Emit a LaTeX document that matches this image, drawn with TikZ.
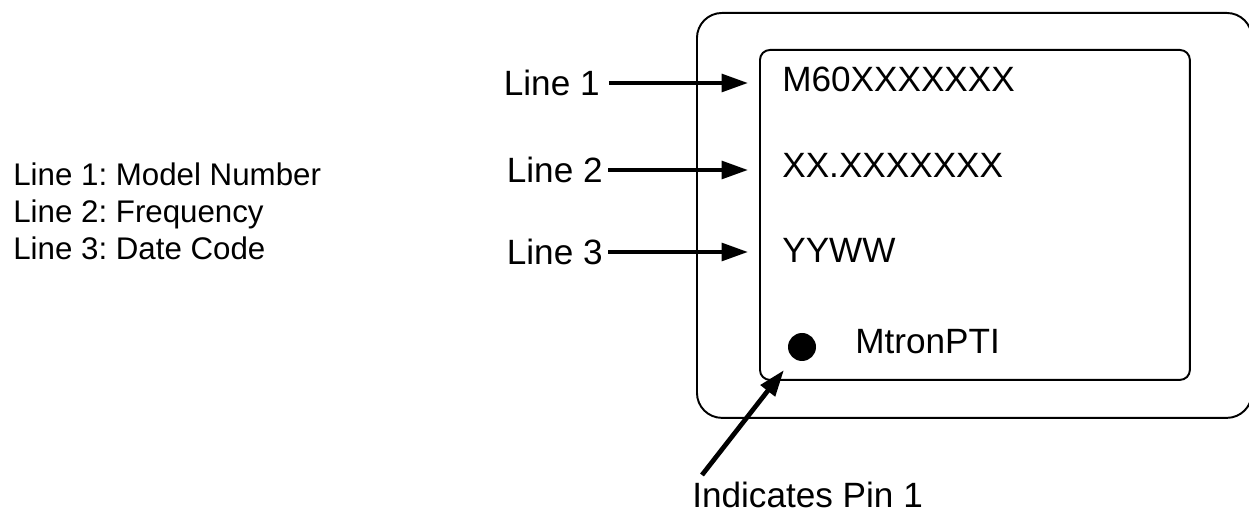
\documentclass[tikz,border=0pt]{standalone}
\usepackage{fontspec}
\setmainfont{Liberation Sans}
\usetikzlibrary{positioning, arrows.meta}
\frenchspacing

\begin{document}
\begin{tikzpicture}[x=0.02cm, y=-0.02cm, >={Triangle[length=15pt, width=10pt]},
    lbl/.style={inner sep=0pt, font=\fontsize{20pt}{24pt}\selectfont},
    note/.style={inner sep=0pt, anchor=base west, font=\fontsize{17.8pt}{21pt}\selectfont},
    box/.style={draw, line width=1.1pt, anchor=north west},
    pointer/.style={->, line width=2.3pt}]

    \useasboundingbox (0,0) rectangle (1249,516);

    \node[note] (n1) at (13,186) {Line 1: Model Number};
    \node[note] (n2) at (13,223) {Line 2: Frequency};
    \node[note] (n3) at (13,260) {Line 3: Date Code};

    \node[box, rounded corners=0.5cm, minimum width=11.1cm, minimum height=8.1cm] (case)
        at (696,12) {};
    \node[box, rounded corners=0.2cm, minimum width=8.6cm, minimum height=6.6cm] (face)
        at (759,49) {};

    \node[lbl, anchor=base west] (mod) at (782,92) {M60XXXXXXX};
    \node[lbl, anchor=base west] (frq) at (782,178) {XX.XXXXXXX};
    \node[lbl, anchor=base west] (dat) at (782,263) {YYWW};
    \node[circle, fill, inner sep=0pt, minimum size=0.56cm] (pin) at (802,347) {};
    \node[lbl, anchor=base west] (brand) at (855,354) {MtronPTI};

    \node[lbl, anchor=east] (l1) at (600,83) {Line 1};
    \node[lbl, anchor=east] (l2) at (603,170) {Line 2};
    \node[lbl, anchor=east] (l3) at (603,252) {Line 3};
    \node[lbl, anchor=base west] (ind) at (692,508) {Indicates Pin 1};

    \coordinate (t1) at (748,83);
    \coordinate (t2) at (748,170);
    \coordinate (t3) at (748,252);
    \coordinate (tail) at (702,475);

    \draw[pointer, shorten <=5pt] (l1) -- (t1);
    \draw[pointer, shorten <=3pt] (l2) -- (t2);
    \draw[pointer, shorten <=3pt] (l3) -- (t3);
    \draw[pointer, line width=2.7pt, shorten >=0.3cm] (tail) -- (pin);

\end{tikzpicture}
\end{document}
